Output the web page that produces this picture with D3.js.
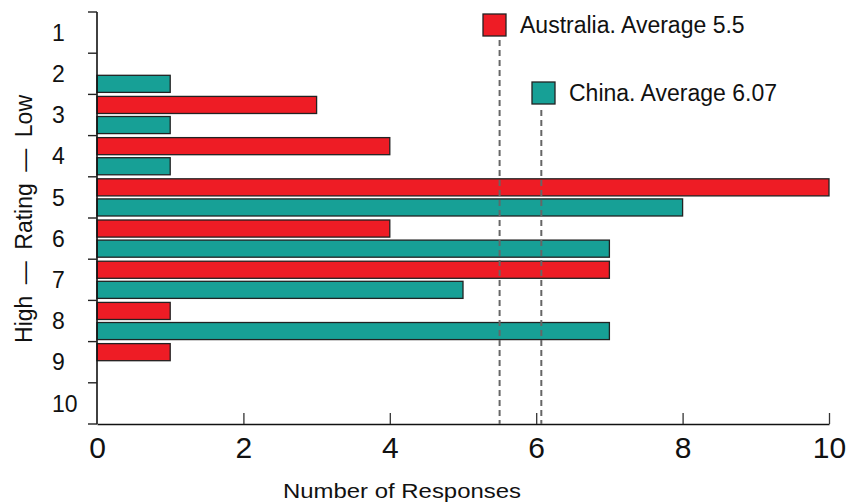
<!DOCTYPE html>
<html>
<head>
<meta charset="utf-8">
<script src="https://cdn.jsdelivr.net/npm/d3@7"></script>
<style>
  html, body { margin: 0; padding: 0; background: #fff; }
  svg { display: block; font-family: "Liberation Sans", Arial, sans-serif; }
</style>
</head>
<body>
<svg id="chart" width="849" height="504"></svg>
<script>
// Ratings 1 (low) to 10 (high), number of responses per rating
const ratings = [1, 2, 3, 4, 5, 6, 7, 8, 9, 10];
const australia = [0, 0, 3, 4, 10, 4, 7, 1, 1, 0];
const china = [0, 1, 1, 1, 8, 7, 5, 7, 0, 0];
const seriesNames = ["Australia", "China"];
const averages = [5.5, 6.07];
const legendLabels = ["Australia. Average 5.5", "China. Average 6.07"];
const xTicks = [0, 2, 4, 6, 8, 10];
const colors = ["#ee1c25", "#17a096"];

const svg = d3.select("#chart");
const plotLeft = 97, plotRight = 829, plotTop = 12, plotBottom = 424;

const x = d3.scaleLinear().domain([0, 10]).range([plotLeft, plotRight]);
const y = d3.scaleBand().domain(ratings).range([plotTop, plotBottom]).padding(0);
const ySub = d3.scaleBand().domain(seriesNames).range([0, y.bandwidth()])
  .paddingInner(0.15).paddingOuter(0.1);

const rows = ratings.map((r, i) => ({
  rating: r,
  values: [
    { series: seriesNames[0], value: australia[i], color: colors[0] },
    { series: seriesNames[1], value: china[i], color: colors[1] }
  ]
}));

// Bars
const groups = svg.append("g").selectAll("g").data(rows).join("g")
  .attr("transform", d => `translate(0,${y(d.rating)})`);
groups.selectAll("rect")
  .data(d => d.values.filter(v => v.value > 0))
  .join("rect")
  .attr("x", x(0))
  .attr("y", v => ySub(v.series))
  .attr("width", v => x(v.value) - x(0))
  .attr("height", ySub.bandwidth())
  .attr("fill", v => v.color)
  .attr("stroke", "#222")
  .attr("stroke-width", 1.3);

// Y axis: ticks at band boundaries, labels centred in each band
const yAxis = svg.append("g");
yAxis.append("line")
  .attr("x1", plotLeft).attr("x2", plotLeft).attr("y1", plotTop).attr("y2", plotBottom)
  .attr("stroke", "#111").attr("stroke-width", 1.6);
const boundaries = ratings.map(r => y(r)).concat([plotBottom]);
yAxis.selectAll("line.tick").data(boundaries).join("line")
  .attr("class", "tick")
  .attr("x1", plotLeft - 9).attr("x2", plotLeft)
  .attr("y1", d => d).attr("y2", d => d)
  .attr("stroke", "#222").attr("stroke-width", 1.4);
yAxis.selectAll("text").data(ratings).join("text")
  .attr("x", 52)
  .attr("y", d => y(d) + y.bandwidth() / 2)
  .attr("dy", "0.36em")
  .attr("font-size", 23)
  .attr("fill", "#111")
  .text(d => d);

// X axis with inward ticks
const xAxis = svg.append("g").attr("transform", `translate(0,${plotBottom})`)
  .call(d3.axisBottom(x).tickValues(xTicks).tickSize(-11).tickSizeOuter(0).tickPadding(0));
xAxis.select(".domain").attr("stroke", "#111").attr("stroke-width", 1.6);
xAxis.selectAll(".tick line").attr("stroke", "#333").attr("stroke-width", 1.3)
  .filter(d => d === 0).remove();
xAxis.selectAll(".tick text")
  .attr("y", 34)
  .attr("dy", 0)
  .attr("font-size", 30)
  .attr("font-family", "Liberation Sans, Arial, sans-serif")
  .attr("fill", "#111");

// Average lines
const avgTop = [40, 110];
svg.append("g").selectAll("line").data(averages).join("line")
  .attr("x1", d => x(d)).attr("x2", d => x(d))
  .attr("y1", (d, i) => avgTop[i]).attr("y2", plotBottom)
  .attr("stroke", "#666").attr("stroke-width", 2)
  .attr("stroke-dasharray", "6,4");

// Legend
const legendPos = [{ x: 483, y: 14 }, { x: 532, y: 82 }];
const legend = svg.append("g").selectAll("g").data(legendLabels).join("g")
  .attr("transform", (d, i) => `translate(${legendPos[i].x},${legendPos[i].y})`);
legend.append("rect")
  .attr("width", 23).attr("height", 22)
  .attr("fill", (d, i) => colors[i])
  .attr("stroke", "#222").attr("stroke-width", 1.3);
legend.append("text")
  .attr("x", 37).attr("y", 19)
  .attr("font-size", 23)
  .attr("fill", "#111")
  .text(d => d);

// Axis titles
svg.append("text")
  .attr("x", 402).attr("y", 498)
  .attr("text-anchor", "middle")
  .attr("font-size", 21)
  .attr("textLength", 238)
  .attr("lengthAdjust", "spacingAndGlyphs")
  .attr("fill", "#111")
  .text("Number of Responses");

svg.append("text")
  .attr("transform", "translate(32,219) rotate(-90)")
  .attr("text-anchor", "middle")
  .attr("font-size", 23)
  .attr("fill", "#111")
  .text("High\u2002\u2014\u2002Rating\u2002\u2014\u2002Low");
</script>
</body>
</html>
